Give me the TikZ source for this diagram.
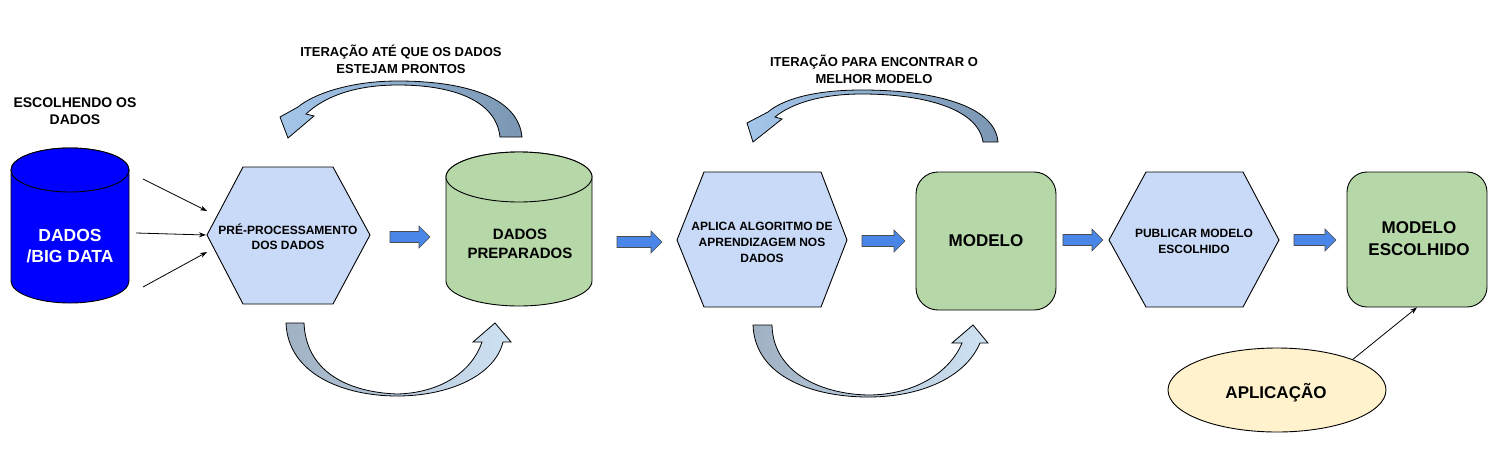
\documentclass[tikz,border=0pt]{standalone}
\usepackage{fontspec}
\setmainfont{Liberation Sans}
\usetikzlibrary{shapes.geometric,arrows.meta}
\definecolor{bigblue}{HTML}{0000FF}
\definecolor{dgreen}{HTML}{B6D7A8}
\definecolor{hexblue}{HTML}{C9DAF8}
\definecolor{appyellow}{HTML}{FFF2CC}
\definecolor{blockblue}{HTML}{4A86E8}
\definecolor{curlight}{HTML}{A4C6EA}
\definecolor{curdark}{HTML}{7A96B2}
\definecolor{botdark}{HTML}{A0B1C3}
\definecolor{botlight}{HTML}{CFE2F3}
\newcommand{\fs}[2]{\fontsize{#1}{#2}\selectfont\bfseries}
\begin{document}
\begin{tikzpicture}[x=1pt,y=-1pt,
  shapeline/.style={draw=black,line width=0.9pt},
  lbl/.style={align=center,inner sep=0pt,text=black},
  blockarrow/.style={fill=blockblue,draw=black!70,line width=0.6pt},
  thinarrow/.style={draw=black,line width=0.8pt,-{Stealth[length=7pt,width=5pt]}},
  curvearrow/.style={draw=black,line width=0.8pt},
  roundbox/.style={shapeline,fill=dgreen,rounded corners=22pt,minimum width=140pt,inner sep=0pt}
]
\useasboundingbox (0,0) rectangle (1492,448);
\fill[white] (0,0) rectangle (1492,448);

% blue cylinder
\filldraw[shapeline,fill=bigblue] (11,170) -- (11,281) arc[start angle=180,end angle=0,x radius=59,y radius=22] -- (129,170) arc[start angle=0,end angle=-180,x radius=59,y radius=22] -- cycle;
\filldraw[shapeline,fill=bigblue] (70,170) ellipse[x radius=59,y radius=22];
\node[lbl,text=white,font=\fs{17.5}{21}] (bigdata) at (70,246) {DADOS\\/BIG DATA};
\node[lbl,font=\fs{14}{17}] (escolhendo) at (75,111) {ESCOLHENDO OS\\DADOS};

% hexagon 1
\filldraw[shapeline,fill=hexblue] (207,235) -- (243,167) -- (333,167) -- (370,235) -- (333,304) -- (243,304) -- cycle;
\node[lbl,font=\fs{12}{15}] (prep) at (288,237) {PRÉ-PROCESSAMENTO\\DOS DADOS};

% input arrows
\coordinate (in1s) at (143,179); \coordinate (in1e) at (207,211);
\coordinate (in2s) at (136,233); \coordinate (in2e) at (206,235);
\coordinate (in3s) at (143,287); \coordinate (in3e) at (207,252);
\draw[thinarrow] (in1s) -- (in1e);
\draw[thinarrow] (in2s) -- (in2e);
\draw[thinarrow] (in3s) -- (in3e);

% green cylinder
\filldraw[shapeline,fill=dgreen] (446,177) -- (446,281) arc[start angle=180,end angle=0,x radius=73,y radius=25] -- (592,177) arc[start angle=0,end angle=-180,x radius=73,y radius=25] -- cycle;
\filldraw[shapeline,fill=dgreen] (519,177) ellipse[x radius=73,y radius=25];
\node[lbl,font=\fs{15}{19}] (prepared) at (520,244) {DADOS\\PREPARADOS};

% hexagon 2
\filldraw[shapeline,fill=hexblue] (677,240) -- (704,172) -- (821,172) -- (847,240) -- (821,307) -- (704,307) -- cycle;
\node[lbl,font=\fs{12}{16}] (algo) at (762,242) {APLICA ALGORITMO DE\\APRENDIZAGEM NOS\\DADOS};

% modelo box
\node[roundbox,minimum height=138pt,font=\fs{17}{21}] (modelo) at (986,241) {MODELO};

% hexagon 3
\filldraw[shapeline,fill=hexblue] (1109,240) -- (1146,172) -- (1243,172) -- (1279,240) -- (1243,307) -- (1146,307) -- cycle;
\node[lbl,font=\fs{12}{16}] (publicar) at (1194,241) {PUBLICAR MODELO\\ESCOLHIDO};

% modelo escolhido
\node[roundbox,rounded corners=20pt,minimum height=135pt] (escolhido) at (1417,239.5) {};
\node[lbl,font=\fs{17}{22}] (esctext) at (1419,239) {MODELO\\ESCOLHIDO};

% aplicacao
\node[ellipse,shapeline,fill=appyellow,minimum width=218pt,minimum height=84pt,inner sep=0pt] (app) at (1277,390) {};
\node[lbl,font=\fs{17}{20}] (apptext) at (1276,393) {APLICAÇÃO};
\draw[thinarrow] (app.22) -- (escolhido.south);

% block arrows
\foreach \x/\y/\l in {390/237/40, 617/242/45, 862/241/43, 1063/240/40, 1294/240/42}{
  \filldraw[blockarrow] (\x,\y-5.5) -- (\x+\l-11,\y-5.5) -- (\x+\l-11,\y-11) -- (\x+\l,\y) -- (\x+\l-11,\y+11) -- (\x+\l-11,\y+5.5) -- (\x,\y+5.5) -- cycle;
}

% curved arrows top
\path[curvearrow,left color=curlight,right color=curdark]
 (522,137) .. controls (518,95) and (460,81) .. (398,81) .. controls (348,81) and (312,95) .. (298,107)
 -- (280,117) -- (288,138) -- (314,116) -- (306,114)
 .. controls (325,96) and (356,85) .. (398,85) .. controls (452,85) and (496,100) .. (500,137) -- cycle;
\node[lbl,font=\fs{13}{17}] (iter1) at (401,59) {ITERAÇÃO ATÉ QUE OS DADOS\\ESTEJAM PRONTOS};

\path[curvearrow,left color=curlight,right color=curdark]
 (998,142) .. controls (995,105) and (932,90) .. (862,90) .. controls (812,90) and (782,100) .. (768,112)
 -- (747,123) -- (753,142) -- (782,119) -- (775,117)
 .. controls (792,103) and (822,94) .. (862,94) .. controls (922,94) and (978,108) .. (983,142) -- cycle;
\node[lbl,font=\fs{13}{17}] (iter2) at (874,69) {ITERAÇÃO PARA ENCONTRAR O\\MELHOR MODELO};

% curved arrows bottom
\path[curvearrow,left color=botdark,right color=botlight]
 (286,323) .. controls (288,375) and (345,396) .. (397,396) .. controls (450,396) and (495,375) .. (503,342)
 -- (511,342) -- (495,323) -- (473,342) -- (482,342)
 .. controls (472,372) and (440,393) .. (397,394) .. controls (345,392) and (306,370) .. (304,323) -- cycle;

\path[curvearrow,left color=botdark,right color=botlight]
 (753,325) .. controls (755,378) and (815,397) .. (868,397) .. controls (920,397) and (965,378) .. (980,343)
 -- (988,343) -- (973,325) -- (952,343) -- (962,343)
 .. controls (950,372) and (915,395) .. (868,395) .. controls (820,394) and (773,372) .. (772,325) -- cycle;
\end{tikzpicture}
\end{document}
